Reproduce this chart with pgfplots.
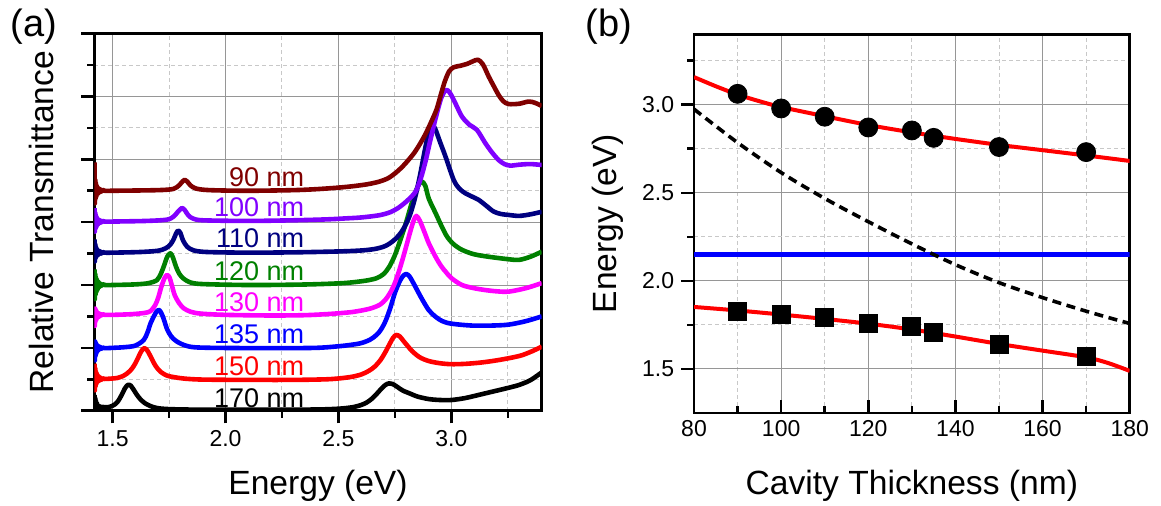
\documentclass[border=0pt]{standalone}
\usepackage{pgfplots}
\pgfplotsset{compat=1.18}
\usepackage{fontspec}
\setmainfont{Liberation Sans}

\definecolor{c90}{RGB}{128,0,0}
\definecolor{c100}{RGB}{128,0,255}
\definecolor{c110}{RGB}{0,0,128}
\definecolor{c120}{RGB}{0,128,0}
\definecolor{c130}{RGB}{255,0,255}
\definecolor{c135}{RGB}{0,0,255}
\definecolor{c150}{RGB}{255,0,0}
\definecolor{c170}{RGB}{0,0,0}
\definecolor{majgrid}{RGB}{150,150,150}
\definecolor{mingrid}{RGB}{200,200,200}

\pgfplotsset{
  panel/.style={
    scale only axis,
    axis line style={line width=1.3pt},
    grid=both,
    major grid style={line width=0.5pt, majgrid},
    minor grid style={line width=0.5pt, mingrid, dash pattern=on 2pt off 1.5pt},
    tick style={line width=1.3pt, black},
    xtick pos=left, ytick pos=left,
    major tick length=6.4pt, minor tick length=3.5pt,
    tick label style={font=\fontsize{11.5}{13}\selectfont},
    label style={font=\fontsize{16.8}{20}\selectfont},
    /pgf/number format/assume math mode=true,
  },
  spec/.style={smooth, tension=0.5, line width=2.3pt, line join=round, mark=none},
}

\begin{document}
\begin{tikzpicture}
\path[use as bounding box] (0,0) rectangle (580.5pt,253pt);

% ---------------- (a) transmittance spectra ----------------
\begin{axis}[panel,
  at={(47.15pt,47.65pt)}, anchor=south west,
  width=223.7pt, height=188.5pt,
  xmin=1.419, xmax=3.4, ymin=0, ymax=12,
  tick align=outside,
  xtick={1.5,2.0,2.5,3.0}, minor xtick={1.75,2.25,2.75,3.25},
  ytick={0,2,4,6,8,10,12}, minor ytick={1,3,5,7,9,11},
  yticklabels={},
  xticklabel style={/pgf/number format/fixed, /pgf/number format/fixed zerofill, /pgf/number format/precision=1},
  xlabel={Energy (eV)}, ylabel={Relative Transmittance},
  xlabel style={at={(axis description cs:0.5,-0.2236)}, anchor=base},
  ylabel style={at={(axis description cs:-0.0923,0.5)}, anchor=base},
]
% 170 nm
\addplot[spec, c170] coordinates {
(1.420,0.5)(1.4215,0.0)(1.423,0.4)(1.4245,0.02)(1.426,0.32)(1.428,0.04)(1.430,0.25)(1.433,0.06)(1.436,0.18)(1.440,0.08)(1.444,0.14)(1.450,0.1)(1.456,0.12)(1.465,0.11)
(1.48,0.11)(1.495,0.14)(1.51,0.2)(1.525,0.31)(1.54,0.5)(1.553,0.69)(1.564,0.8)(1.572,0.83)(1.58,0.8)(1.593,0.67)(1.608,0.5)(1.625,0.35)(1.645,0.23)(1.67,0.14)(1.7,0.08)(1.75,0.05)(1.85,0.035)(2.0,0.03)(2.2,0.03)(2.35,0.035)(2.42,0.04)(2.48,0.055)(2.53,0.08)(2.57,0.12)(2.6,0.18)(2.625,0.26)(2.648,0.38)(2.67,0.54)(2.69,0.7)(2.708,0.82)(2.724,0.87)(2.74,0.85)(2.76,0.76)(2.785,0.64)(2.812,0.56)(2.85,0.45)(2.9,0.37)(2.95,0.34)(3.0,0.34)(3.06,0.4)(3.12,0.5)(3.19,0.62)(3.254,0.73)(3.3,0.82)(3.35,0.97)(3.4,1.22)};
% 150 nm
\addplot[spec, c150] coordinates {
(1.420,1.5)(1.4215,0.65)(1.423,1.35)(1.4245,0.78)(1.426,1.25)(1.428,0.85)(1.430,1.18)(1.433,0.9)(1.436,1.12)(1.440,0.94)(1.444,1.07)(1.450,0.98)(1.456,1.03)(1.465,1.01)
(1.49,1.02)(1.52,1.04)(1.545,1.1)(1.565,1.19)(1.585,1.33)(1.6,1.5)(1.612,1.67)(1.624,1.85)(1.634,1.96)(1.641,1.99)(1.65,1.95)(1.66,1.84)(1.672,1.67)(1.69,1.43)(1.712,1.24)(1.74,1.12)(1.77,1.07)(1.82,1.02)(1.9,0.99)(2.1,0.98)(2.3,0.98)(2.45,1.0)(2.52,1.04)(2.56,1.08)(2.6,1.15)(2.635,1.27)(2.66,1.4)(2.685,1.6)(2.705,1.83)(2.725,2.1)(2.742,2.32)(2.756,2.41)(2.772,2.36)(2.79,2.2)(2.81,2.03)(2.827,1.89)(2.86,1.7)(2.9,1.58)(2.95,1.51)(3.0,1.48)(3.06,1.49)(3.128,1.53)(3.19,1.59)(3.254,1.67)(3.31,1.76)(3.36,1.9)(3.4,2.04)};
% 135 nm
\addplot[spec, c135] coordinates {
(1.420,2.25)(1.4215,1.6)(1.423,2.2)(1.4245,1.75)(1.426,2.15)(1.428,1.82)(1.430,2.1)(1.433,1.88)(1.436,2.07)(1.440,1.93)(1.444,2.04)(1.450,1.97)(1.456,2.01)(1.465,1.99)
(1.5,2.0)(1.55,2.02)(1.6,2.07)(1.638,2.25)(1.655,2.5)(1.668,2.78)(1.684,3.02)(1.695,3.16)(1.704,3.21)(1.713,3.14)(1.725,2.95)(1.741,2.6)(1.76,2.36)(1.785,2.2)(1.82,2.08)(1.86,2.02)(1.95,2.0)(2.2,1.99)(2.4,2.0)(2.5,2.05)(2.56,2.1)(2.6,2.15)(2.64,2.26)(2.67,2.42)(2.69,2.6)(2.71,2.88)(2.73,3.28)(2.75,3.75)(2.77,4.1)(2.785,4.28)(2.8,4.35)(2.815,4.27)(2.835,4.02)(2.855,3.75)(2.871,3.54)(2.9,3.2)(2.93,2.99)(2.96,2.85)(3.0,2.77)(3.09,2.71)(3.18,2.71)(3.254,2.74)(3.33,2.85)(3.4,3.0)};
% 130 nm
\addplot[spec, c130] coordinates {
(1.420,3.3)(1.4215,2.7)(1.423,3.25)(1.4245,2.85)(1.426,3.2)(1.428,2.9)(1.430,3.15)(1.433,2.95)(1.436,3.12)(1.440,2.98)(1.444,3.09)(1.450,3.03)(1.456,3.07)(1.465,3.05)
(1.5,3.05)(1.58,3.07)(1.64,3.11)(1.668,3.17)(1.69,3.38)(1.703,3.62)(1.716,3.95)(1.73,4.22)(1.741,4.32)(1.752,4.24)(1.762,4.0)(1.775,3.68)(1.795,3.42)(1.815,3.26)(1.845,3.15)(1.89,3.09)(2.0,3.05)(2.2,3.03)(2.35,3.04)(2.44,3.07)(2.5,3.1)(2.56,3.14)(2.61,3.2)(2.65,3.27)(2.685,3.38)(2.71,3.55)(2.735,3.83)(2.755,4.16)(2.775,4.6)(2.797,5.15)(2.818,5.7)(2.833,6.05)(2.845,6.2)(2.86,6.05)(2.88,5.7)(2.9,5.33)(2.93,4.9)(2.955,4.6)(2.974,4.43)(3.0,4.22)(3.047,4.0)(3.1,3.9)(3.15,3.84)(3.2,3.8)(3.254,3.79)(3.33,3.9)(3.4,4.06)};
% 120 nm
\addplot[spec, c120] coordinates {
(1.420,4.5)(1.4215,3.55)(1.423,4.35)(1.4245,3.7)(1.426,4.25)(1.428,3.78)(1.430,4.18)(1.433,3.85)(1.436,4.12)(1.440,3.92)(1.444,4.06)(1.450,3.97)(1.456,4.03)(1.465,4.0)
(1.5,4.0)(1.6,4.02)(1.66,4.06)(1.697,4.16)(1.715,4.38)(1.728,4.62)(1.742,4.9)(1.756,5.01)(1.767,4.88)(1.78,4.6)(1.795,4.36)(1.815,4.2)(1.845,4.08)(1.9,4.03)(2.1,4.0)(2.3,4.01)(2.42,4.03)(2.52,4.06)(2.58,4.1)(2.63,4.15)(2.67,4.22)(2.7,4.35)(2.725,4.58)(2.75,4.95)(2.775,5.45)(2.8,6.0)(2.822,6.55)(2.842,6.98)(2.858,7.22)(2.871,7.29)(2.885,7.15)(2.9,6.75)(2.93,6.29)(2.955,5.9)(2.981,5.54)(3.01,5.3)(3.047,5.12)(3.1,4.98)(3.165,4.9)(3.254,4.82)(3.3,4.8)(3.35,4.9)(3.4,5.06)};
% 110 nm
\addplot[spec, c110] coordinates {
(1.420,5.45)(1.4215,4.75)(1.423,5.3)(1.4245,4.85)(1.426,5.22)(1.428,4.9)(1.430,5.15)(1.433,4.93)(1.436,5.11)(1.440,4.97)(1.444,5.08)(1.450,5.0)(1.456,5.05)(1.465,5.03)
(1.5,5.03)(1.62,5.05)(1.7,5.09)(1.735,5.17)(1.755,5.28)(1.77,5.45)(1.781,5.64)(1.79,5.73)(1.8,5.66)(1.812,5.42)(1.83,5.22)(1.86,5.1)(1.92,5.05)(2.1,5.03)(2.3,5.04)(2.45,5.06)(2.55,5.08)(2.62,5.11)(2.67,5.16)(2.71,5.25)(2.745,5.42)(2.775,5.65)(2.8,5.95)(2.82,6.3)(2.84,6.8)(2.86,7.45)(2.88,8.2)(2.897,8.8)(2.908,9.03)(2.915,9.1)(2.928,8.98)(2.95,8.55)(2.974,8.09)(3.01,7.35)(3.035,7.07)(3.062,6.92)(3.09,6.82)(3.121,6.71)(3.155,6.52)(3.187,6.34)(3.22,6.26)(3.254,6.23)(3.3,6.2)(3.35,6.25)(3.4,6.33)};
% 100 nm
\addplot[spec, c100] coordinates {
(1.420,6.45)(1.4215,5.7)(1.423,6.3)(1.4245,5.8)(1.426,6.22)(1.428,5.85)(1.430,6.15)(1.433,5.9)(1.436,6.1)(1.440,5.95)(1.444,6.07)(1.450,5.99)(1.456,6.04)(1.465,6.02)
(1.5,6.02)(1.65,6.04)(1.74,6.08)(1.77,6.18)(1.79,6.34)(1.807,6.45)(1.82,6.38)(1.835,6.22)(1.855,6.12)(1.9,6.06)(2.1,6.04)(2.3,6.06)(2.45,6.09)(2.53,6.12)(2.6,6.15)(2.68,6.22)(2.73,6.32)(2.77,6.48)(2.81,6.72)(2.842,6.98)(2.865,7.4)(2.886,7.95)(2.905,8.55)(2.93,9.3)(2.955,9.95)(2.977,10.21)(2.995,10.1)(3.02,9.75)(3.047,9.36)(3.08,9.1)(3.113,8.94)(3.15,8.52)(3.18,8.22)(3.209,7.98)(3.235,7.85)(3.261,7.8)(3.3,7.83)(3.35,7.85)(3.4,7.82)};
% 90 nm
\addplot[spec, c90] coordinates {
(1.420,7.9)(1.4215,6.6)(1.423,7.35)(1.4245,6.75)(1.426,7.25)(1.428,6.82)(1.430,7.15)(1.433,6.88)(1.436,7.1)(1.440,6.93)(1.444,7.06)(1.450,6.97)(1.456,7.03)(1.465,7.0)
(1.5,7.0)(1.7,7.02)(1.77,7.06)(1.795,7.18)(1.81,7.3)(1.819,7.35)(1.83,7.3)(1.845,7.17)(1.87,7.07)(1.93,7.02)(2.1,7.0)(2.3,7.02)(2.4,7.05)(2.5,7.1)(2.57,7.15)(2.63,7.21)(2.68,7.29)(2.72,7.4)(2.755,7.58)(2.785,7.78)(2.81,7.98)(2.835,8.2)(2.86,8.48)(2.885,8.8)(2.91,9.18)(2.935,9.6)(2.955,10.1)(2.972,10.5)(2.99,10.8)(3.01,10.93)(3.04,10.98)(3.07,11.04)(3.095,11.12)(3.118,11.17)(3.14,11.02)(3.165,10.64)(3.19,10.3)(3.209,10.05)(3.23,9.85)(3.254,9.76)(3.3,9.77)(3.342,9.84)(3.37,9.8)(3.4,9.7)};

\begin{scope}[font=\fontsize{13.5}{16}\selectfont]
\node[anchor=base east, text=c90]  at (axis cs:2.38,7.15) {90 nm};
\node[anchor=base east, text=c100] at (axis cs:2.38,6.17) {100 nm};
\node[anchor=base east, text=c110] at (axis cs:2.38,5.18) {110 nm};
\node[anchor=base east, text=c120] at (axis cs:2.38,4.15) {120 nm};
\node[anchor=base east, text=c130] at (axis cs:2.38,3.15) {130 nm};
\node[anchor=base east, text=c135] at (axis cs:2.38,2.13) {135 nm};
\node[anchor=base east, text=c150] at (axis cs:2.38,1.12) {150 nm};
\node[anchor=base east, text=c170] at (axis cs:2.38,0.1) {170 nm};
\end{scope}
\end{axis}

% ---------------- (b) polariton branches ----------------
\begin{axis}[panel,
  at={(347pt,46.5pt)}, anchor=south west,
  width=217.85pt, height=189.35pt,
  xmin=80, xmax=180, ymin=1.25, ymax=3.4,
  xtick align=inside, ytick align=outside,
  xtick={80,100,...,180}, minor xtick={90,110,...,170},
  ytick={1.5,2.0,2.5,3.0}, minor ytick={1.75,2.25,2.75,3.25},
  yticklabel style={/pgf/number format/fixed, /pgf/number format/fixed zerofill, /pgf/number format/precision=1},
  xlabel={Cavity Thickness (nm)}, ylabel={Energy (eV)},
  xlabel style={at={(axis description cs:0.5,-0.2165)}, anchor=base},
  ylabel style={at={(axis description cs:-0.178,0.5)}, anchor=base},
]
% exciton
\addplot[c135, line width=2.5pt] coordinates {(80,2.15) (180,2.15)};
% bare cavity mode
\addplot[black, line width=1.8pt, smooth, dash pattern=on 4.5pt off 2.8pt] coordinates {
(80,2.975)(90,2.785)(100,2.615)(110,2.468)(120,2.336)(130,2.21)(140,2.092)(150,1.99)(160,1.905)(170,1.828)(180,1.758)};
% upper polariton, measured
\addplot[only marks, mark=*, mark size=4.75pt, black] coordinates {
(90,3.062)(100,2.979)(110,2.932)(120,2.871)(130,2.854)(135,2.812)(150,2.76)(170,2.731)};
% fits
\addplot[c150, line width=2pt, smooth] coordinates {
(80,3.157)(85,3.105)(90,3.058)(95,3.02)(100,2.987)(110,2.935)(120,2.885)(130,2.843)(140,2.806)(150,2.772)(160,2.742)(170,2.712)(180,2.681)};
\addplot[c150, line width=2pt, smooth] coordinates {
(80,1.852)(90,1.832)(100,1.809)(110,1.784)(120,1.757)(130,1.724)(140,1.684)(150,1.642)(160,1.604)(170,1.566)(175,1.534)(180,1.489)};
% lower polariton, measured
\addplot[only marks, mark=square*, mark size=4.5pt, black] coordinates {
(90,1.824)(100,1.812)(110,1.79)(120,1.756)(130,1.741)(135,1.706)(150,1.64)(170,1.574)};
\end{axis}

\node[anchor=base west, inner sep=0pt, font=\fontsize{19}{22}\selectfont] at (5pt,234.5pt) {(a)};
\node[anchor=base west, inner sep=0pt, font=\fontsize{19}{22}\selectfont] at (292.5pt,234.5pt) {(b)};
\end{tikzpicture}
\end{document}
